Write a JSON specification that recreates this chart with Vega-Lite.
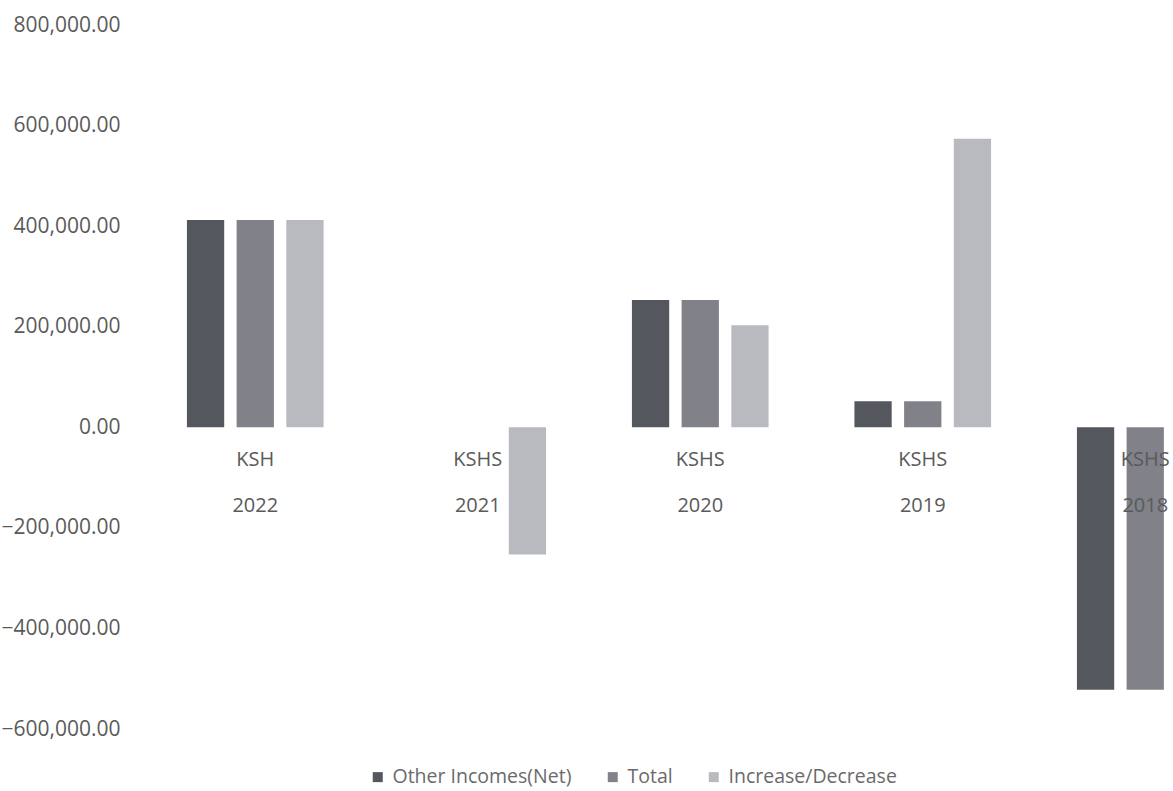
{
  "$schema": "https://vega.github.io/schema/vega-lite/v6.json",
  "autosize": {"type": "none"},
  "padding": {"left": 144, "top": 25, "right": 0, "bottom": 62},
  "width": 1029,
  "height": 704,
  "background": "white",
  "config": {
    "view": {"stroke": null},
    "font": "Open Sans"
  },
  "data": {
    "values": [
      {"year": "2022", "unit": "KSH", "series": "Other Incomes(Net)", "value": 412000},
      {"year": "2022", "unit": "KSH", "series": "Total", "value": 412000},
      {"year": "2022", "unit": "KSH", "series": "Increase/Decrease", "value": 412000},
      {"year": "2021", "unit": "KSHS", "series": "Other Incomes(Net)", "value": 0},
      {"year": "2021", "unit": "KSHS", "series": "Total", "value": 0},
      {"year": "2021", "unit": "KSHS", "series": "Increase/Decrease", "value": -253000},
      {"year": "2020", "unit": "KSHS", "series": "Other Incomes(Net)", "value": 253000},
      {"year": "2020", "unit": "KSHS", "series": "Total", "value": 253000},
      {"year": "2020", "unit": "KSHS", "series": "Increase/Decrease", "value": 203000},
      {"year": "2019", "unit": "KSHS", "series": "Other Incomes(Net)", "value": 52000},
      {"year": "2019", "unit": "KSHS", "series": "Total", "value": 52000},
      {"year": "2019", "unit": "KSHS", "series": "Increase/Decrease", "value": 574000},
      {"year": "2018", "unit": "KSHS", "series": "Other Incomes(Net)", "value": -522000},
      {"year": "2018", "unit": "KSHS", "series": "Total", "value": -522000}
    ]
  },
  "encoding": {
    "x": {
      "field": "year",
      "type": "nominal",
      "sort": ["2022", "2021", "2020", "2019", "2018"],
      "scale": {"range": [0, 1112.5], "paddingInner": 0.33, "paddingOuter": 0.165},
      "axis": null
    }
  },
  "layer": [
    {
      "mark": {"type": "bar", "clip": true},
      "encoding": {
        "xOffset": {
          "field": "series",
          "type": "nominal",
          "sort": ["Other Incomes(Net)", "Total", "Increase/Decrease"],
          "scale": {"paddingInner": 0.25, "paddingOuter": 0.125}
        },
        "y": {
          "field": "value",
          "type": "quantitative",
          "scale": {"domain": [-600000, 800000], "nice": false, "zero": false},
          "axis": {
            "title": null,
            "values": [-600000, -400000, -200000, 0, 200000, 400000, 600000, 800000],
            "format": ",.2f",
            "domain": false,
            "ticks": false,
            "grid": false,
            "labelPadding": 24,
            "labelFontSize": 21,
            "labelColor": "#5a5a5a",
            "labelFont": "Open Sans"
          }
        },
        "color": {
          "field": "series",
          "type": "nominal",
          "sort": ["Other Incomes(Net)", "Total", "Increase/Decrease"],
          "scale": {
            "domain": ["Other Incomes(Net)", "Total", "Increase/Decrease"],
            "range": ["#55575f", "#808189", "#b9bac0"]
          },
          "legend": {
            "title": null,
            "orient": "none",
            "direction": "horizontal",
            "legendX": 224,
            "legendY": 742,
            "symbolType": "square",
            "symbolSize": 100,
            "symbolStrokeWidth": 0,
            "labelFontSize": 19.5,
            "labelLimit": 400,
            "labelColor": "#6a6a6a",
            "labelFont": "Open Sans",
            "columnPadding": 31,
            "labelOffset": 5
          }
        }
      }
    },
    {
      "transform": [{"filter": "datum.series === 'Total'"}],
      "mark": {"type": "text", "clip": true, "dy": 33, "fontSize": 20, "color": "#5a5a5a", "baseline": "middle"},
      "encoding": {
        "y": {"datum": 0, "type": "quantitative"},
        "text": {"field": "unit", "type": "nominal"}
      }
    },
    {
      "transform": [{"filter": "datum.series === 'Total'"}],
      "mark": {"type": "text", "clip": true, "dy": 79, "fontSize": 20, "color": "#5a5a5a", "baseline": "middle"},
      "encoding": {
        "y": {"datum": 0, "type": "quantitative"},
        "text": {"field": "year", "type": "nominal"}
      }
    }
  ]
}
